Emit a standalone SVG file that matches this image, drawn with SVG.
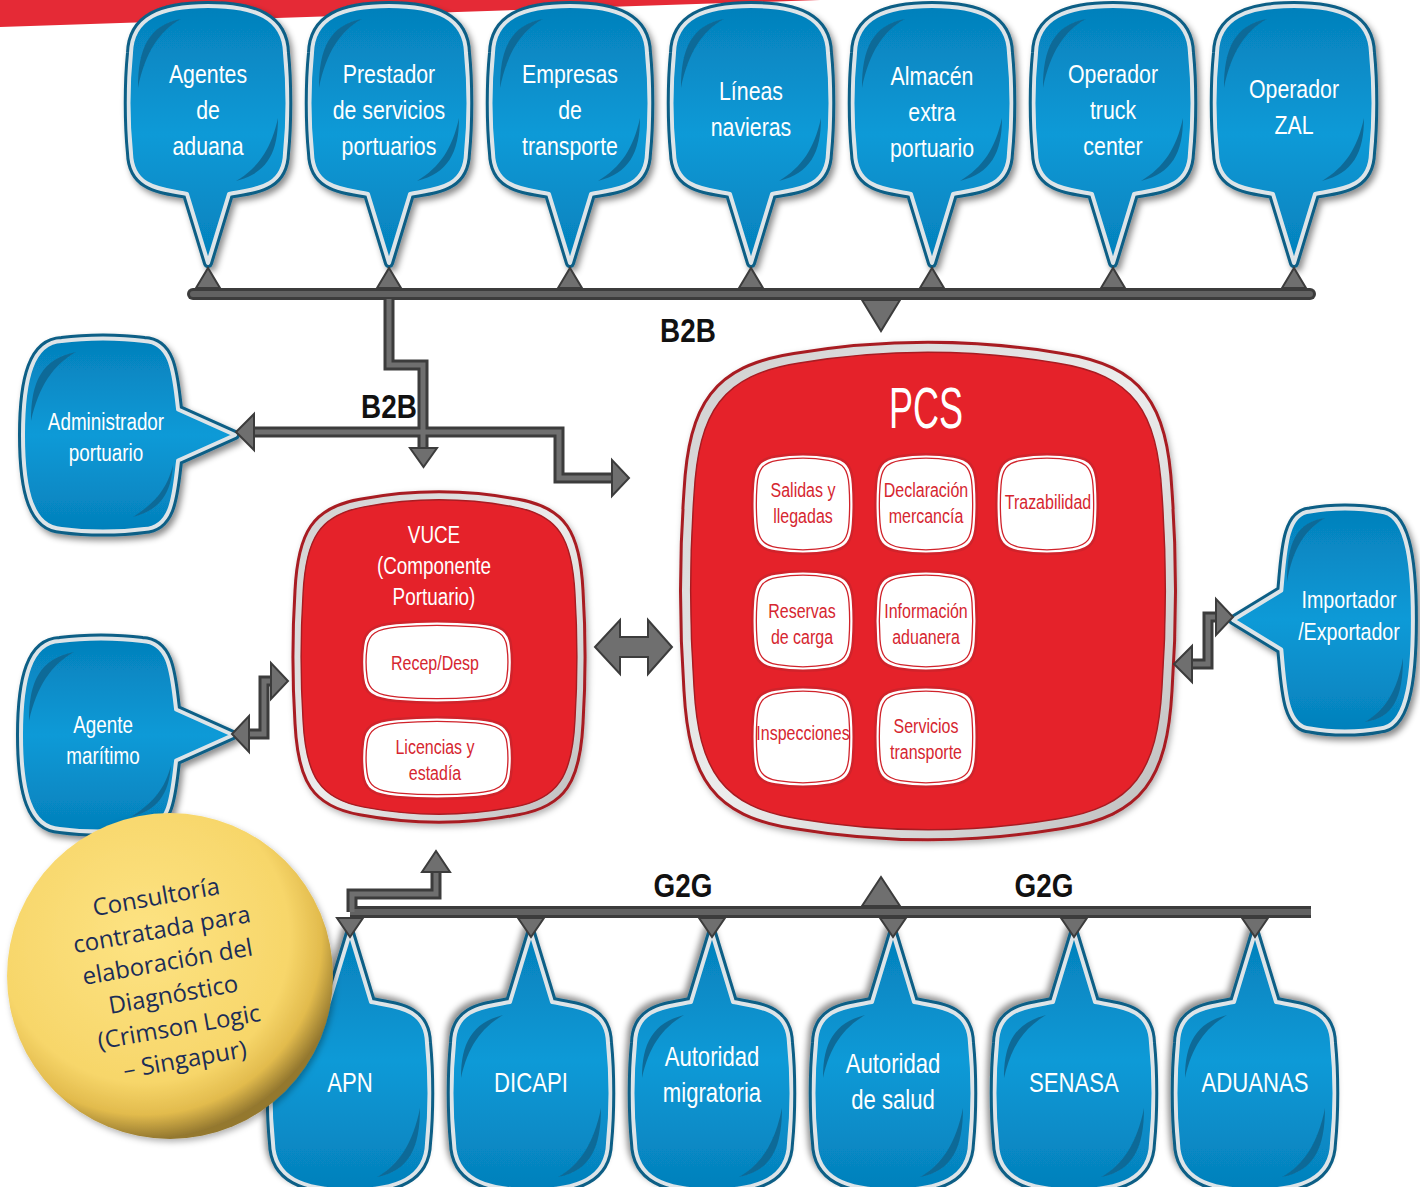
<svg xmlns="http://www.w3.org/2000/svg" width="1420" height="1187" viewBox="0 0 1420 1187">
<defs>
<style>
.wt{font-family:'Liberation Sans','Arimo',sans-serif;fill:#fff;text-anchor:middle}
.top{font-size:26px}
.side{font-size:23px}
.bot{font-size:27px}
.lbl{font-family:'Liberation Sans','Arimo',sans-serif;font-weight:bold;font-size:34px;fill:#111;text-anchor:middle}
.rt{font-family:'Liberation Sans','Arimo',sans-serif;fill:#d62630;font-size:19.5px;text-anchor:middle}
.po{fill:none;stroke:#3c3c3c;stroke-width:11}
.pi{fill:none;stroke:#6f6f6f;stroke-width:5}
.bar{fill:none;stroke:#3c3c3c;stroke-width:12;stroke-linecap:round}
.bari{fill:none;stroke:#626262;stroke-width:6;stroke-linecap:round}
.ah{fill:#6f6f6f;stroke:#3c3c3c;stroke-width:2}
.bo{fill:#0b5f86;stroke:#0b5f86;stroke-width:10;stroke-linejoin:round}
.bi{fill:url(#gb);stroke:#dde4e8;stroke-width:4;stroke-linejoin:round}
.bc{fill:#0a6b98}
.box{fill:#fff;stroke:#d0232b;stroke-width:2.5}
.boxi{fill:none;stroke:#d0232b;stroke-width:1.4}
.yt{font-family:'Open Sans','Noto Sans',sans-serif;font-size:24px;fill:#1c2d57;text-anchor:middle}
</style>
<linearGradient id="gb" x1="0" y1="0" x2="0" y2="1">
<stop offset="0" stop-color="#0580bb"/>
<stop offset="0.5" stop-color="#0b9ad7"/>
<stop offset="1" stop-color="#0580bb"/>
</linearGradient>
<linearGradient id="gring" x1="0" y1="0" x2="1" y2="1">
<stop offset="0" stop-color="#cfcfcf"/>
<stop offset="0.5" stop-color="#ececec"/>
<stop offset="1" stop-color="#bdbdbd"/>
</linearGradient>
<radialGradient id="gy" cx="0.42" cy="0.38" r="0.62">
<stop offset="0" stop-color="#fde383"/>
<stop offset="0.72" stop-color="#f7d66a"/>
<stop offset="0.88" stop-color="#e2bb4d"/>
<stop offset="1" stop-color="#94782f"/>
</radialGradient>
<filter id="sh" x="-20%" y="-20%" width="140%" height="140%">
<feDropShadow dx="3" dy="4" stdDeviation="3" flood-color="#000" flood-opacity="0.45"/>
</filter>
<filter id="sh2" x="-10%" y="-10%" width="120%" height="120%">
<feDropShadow dx="2" dy="3" stdDeviation="3" flood-color="#000" flood-opacity="0.3"/>
</filter>
<path id="pt" d="M21,91 C47.5,86 76,85 77,50 C80,20 80,-20 77,-50 C76,-85 47.5,-97 0,-97 C-47.5,-97 -76,-85 -77,-50 C-80,-20 -80,20 -77,50 C-76,85 -47.5,86 -21,91 L0,160 Z"/>
<g id="bt">
<use href="#pt" class="bo"/>
<use href="#pt" class="bi"/>
<path class="bc" d="M-70,-15 C-70,-55 -59,-78 -27,-84 C-49,-72 -63,-50 -70,-15 Z M70,15 C70,50 59,70 28,78 C51,64 63,46 70,15 Z"/>
</g>
<path id="pl" d="M75.1,25.5 C71,58 70.1,92.8 41.3,94 C16.5,97.4 -16.5,97.4 -41.3,94 C-70.1,92.8 -80,58 -80,0 C-80,-58 -70.1,-92.8 -41.3,-94 C-16.5,-97.4 16.5,-97.4 41.3,-94 C70.1,-92.8 71,-58 75.1,-25.5 L132,0 Z"/>
<g id="bl">
<use href="#pl" class="bo"/>
<use href="#pl" class="bi"/>
<path class="bc" d="M-72,-14 C-72,-54 -61,-76 -27,-83 C-50,-70 -64,-49 -72,-14 Z M70,30 C68,60 56,75 30,82 C52,68 64,54 70,30 Z"/>
</g>
<path id="pr" d="M-63.7,29.5 C-60.2,67 -59.5,107.2 -35,108.5 C-14,112.6 14,112.6 35,108.5 C59.5,107.2 67.9,67 67.9,0 C67.9,-67 59.5,-107.2 35,-108.5 C14,-112.6 -14,-112.6 -35,-108.5 C-59.5,-107.2 -60.2,-67 -63.7,-29.5 L-112,0 Z"/>
<g id="br">
<use href="#pr" class="bo"/>
<use href="#pr" class="bi"/>
<path class="bc" d="M-58,-38 C-58,-78 -48,-98 -20,-102 C-40,-90 -52,-72 -58,-38 Z M58,38 C58,78 48,98 20,102 C40,90 52,72 58,38 Z"/>
</g>
<path id="pvuce" d="M-79.2,-157.7 Q0,-172.6 79.2,-157.7 C126.7,-149.4 141.1,-124.5 144,-66.4 C146.9,-19.9 146.9,19.9 144,66.4 C141.1,124.5 126.7,149.4 79.2,157.7 Q0,172.6 -79.2,157.7 C-126.7,149.4 -141.1,124.5 -144,66.4 C-146.9,19.9 -146.9,-19.9 -144,-66.4 C-141.1,-124.5 -126.7,-149.4 -79.2,-157.7 Z"/>
<path id="ppcs" d="M-134.2,-237.5 Q0,-260 134.2,-237.5 C214.7,-225 239.1,-187.5 244,-100 C248.9,-30 248.9,30 244,100 C239.1,187.5 214.7,225 134.2,237.5 Q0,260 -134.2,237.5 C-214.7,225 -239.1,187.5 -244,100 C-248.9,30 -248.9,-30 -244,-100 C-239.1,-187.5 -214.7,-225 -134.2,-237.5 Z"/>
<path id="psq" d="M-27.5,-47.5 Q0,-52 27.5,-47.5 C44,-45 49,-37.5 50,-20 C51,-6 51,6 50,20 C49,37.5 44,45 27.5,47.5 Q0,52 -27.5,47.5 C-44,45 -49,37.5 -50,20 C-51,6 -51,-6 -50,-20 C-49,-37.5 -44,-45 -27.5,-47.5 Z"/>
<g id="sq">
<use href="#psq" class="box"/>
<use href="#psq" class="boxi" transform="scale(0.92)"/>
</g>
<path id="ppill" d="M-40.7,-39 Q0,-42.6 40.7,-39 C65.1,-36.9 72.5,-30.8 74,-16.4 C75.5,-4.9 75.5,4.9 74,16.4 C72.5,30.8 65.1,36.9 40.7,39 Q0,42.6 -40.7,39 C-65.1,36.9 -72.5,30.8 -74,16.4 C-75.5,4.9 -75.5,-4.9 -74,-16.4 C-72.5,-30.8 -65.1,-36.9 -40.7,-39 Z"/>
<g id="pill">
<use href="#ppill" class="box"/>
<use href="#ppill" class="boxi" transform="scale(0.945,0.9)"/>
</g>
</defs>

<rect width="1420" height="1187" fill="#fff"/>
<polygon points="0,0 820,0 0,27" fill="#e52a36"/>

<!-- top bubbles -->
<g id="n-agentes-aduana"><use href="#bt" transform="translate(208,103)" filter="url(#sh)"/>
<text class="wt top" transform="matrix(0.82 0 0 1 37.44 0)" x="208" y="83">Agentes<tspan x="208" dy="36">de</tspan><tspan x="208" dy="36">aduana</tspan></text></g>
<g id="n-prestador"><use href="#bt" transform="translate(389,103)" filter="url(#sh)"/>
<text class="wt top" transform="matrix(0.82 0 0 1 70.02 0)" x="389" y="83">Prestador<tspan x="389" dy="36">de servicios</tspan><tspan x="389" dy="36">portuarios</tspan></text></g>
<g id="n-empresas"><use href="#bt" transform="translate(570,103)" filter="url(#sh)"/>
<text class="wt top" transform="matrix(0.82 0 0 1 102.6 0)" x="570" y="83">Empresas<tspan x="570" dy="36">de</tspan><tspan x="570" dy="36">transporte</tspan></text></g>
<g id="n-lineas"><use href="#bt" transform="translate(751,103)" filter="url(#sh)"/>
<text class="wt top" transform="matrix(0.82 0 0 1 135.18 0)" x="751" y="100">Líneas<tspan x="751" dy="36">navieras</tspan></text></g>
<g id="n-almacen"><use href="#bt" transform="translate(932,103)" filter="url(#sh)"/>
<text class="wt top" transform="matrix(0.82 0 0 1 167.76 0)" x="932" y="85">Almacén<tspan x="932" dy="36">extra</tspan><tspan x="932" dy="36">portuario</tspan></text></g>
<g id="n-truck"><use href="#bt" transform="translate(1113,103)" filter="url(#sh)"/>
<text class="wt top" transform="matrix(0.82 0 0 1 200.34 0)" x="1113" y="83">Operador<tspan x="1113" dy="36">truck</tspan><tspan x="1113" dy="36">center</tspan></text></g>
<g id="n-zal"><use href="#bt" transform="translate(1294,103)" filter="url(#sh)"/>
<text class="wt top" transform="matrix(0.82 0 0 1 232.92 0)" x="1294" y="98">Operador<tspan x="1294" dy="36">ZAL</tspan></text></g>

<!-- side bubbles -->
<g id="n-administrador"><use href="#bl" transform="translate(103,435)" filter="url(#sh)"/>
<text class="wt side" transform="matrix(0.82 0 0 1 19.08 0)" x="106" y="430">Administrador<tspan x="106" dy="31">portuario</tspan></text></g>
<g id="n-agente-maritimo"><use href="#bl" transform="translate(101,735)" filter="url(#sh)"/>
<text class="wt side" transform="matrix(0.82 0 0 1 18.54 0)" x="103" y="733">Agente<tspan x="103" dy="31">marítimo</tspan></text></g>
<g id="n-importador"><use href="#br" transform="translate(1345,620)" filter="url(#sh)"/>
<text class="wt side" transform="matrix(0.82 0 0 1 242.82 0)" x="1349" y="608" style="font-size:24px">Importador<tspan x="1349" dy="32">/Exportador</tspan></text></g>

<!-- bottom bubbles -->
<g id="n-apn"><use href="#bt" transform="translate(350,1093) rotate(180)" filter="url(#sh)"/>
<text class="wt bot" transform="matrix(0.82 0 0 1 63 0)" x="350" y="1092">APN</text></g>
<g id="n-dicapi"><use href="#bt" transform="translate(531,1093) rotate(180)" filter="url(#sh)"/>
<text class="wt bot" transform="matrix(0.82 0 0 1 95.58 0)" x="531" y="1092">DICAPI</text></g>
<g id="n-migratoria"><use href="#bt" transform="translate(712,1093) rotate(180)" filter="url(#sh)"/>
<text class="wt bot" transform="matrix(0.82 0 0 1 128.16 0)" x="712" y="1066">Autoridad<tspan x="712" dy="36">migratoria</tspan></text></g>
<g id="n-salud"><use href="#bt" transform="translate(893,1093) rotate(180)" filter="url(#sh)"/>
<text class="wt bot" transform="matrix(0.82 0 0 1 160.74 0)" x="893" y="1073">Autoridad<tspan x="893" dy="36">de salud</tspan></text></g>
<g id="n-senasa"><use href="#bt" transform="translate(1074,1093) rotate(180)" filter="url(#sh)"/>
<text class="wt bot" transform="matrix(0.82 0 0 1 193.32 0)" x="1074" y="1092">SENASA</text></g>
<g id="n-aduanas"><use href="#bt" transform="translate(1255,1093) rotate(180)" filter="url(#sh)"/>
<text class="wt bot" transform="matrix(0.82 0 0 1 225.9 0)" x="1255" y="1092">ADUANAS</text></g>

<!-- VUCE -->
<g id="n-vuce">
<use href="#pvuce" transform="translate(439,657)" fill="url(#gring)" stroke="#a81c22" stroke-width="3" filter="url(#sh2)"/>
<use href="#pvuce" transform="translate(439,657) scale(0.944,0.952)" fill="#e5222a" stroke="#a81c22" stroke-width="1.5"/>
<text class="wt" style="font-size:23px" transform="matrix(0.82 0 0 1 78.12 0)" x="434" y="543">VUCE<tspan x="434" dy="31">(Componente</tspan><tspan x="434" dy="31">Portuario)</tspan></text>
<use href="#pill" transform="translate(437,662)"/>
<text class="rt" transform="matrix(0.82 0 0 1 78.3 0)" x="435" y="670">Recep/Desp</text>
<use href="#pill" transform="translate(437,758)"/>
<text class="rt" transform="matrix(0.82 0 0 1 78.3 0)" x="435" y="754">Licencias y<tspan x="435" dy="26">estadía</tspan></text>
</g>

<!-- PCS -->
<g id="n-pcs">
<use href="#ppcs" transform="translate(928,591)" fill="url(#gring)" stroke="#a81c22" stroke-width="3" filter="url(#sh2)"/>
<use href="#ppcs" transform="translate(928,591) scale(0.959,0.96)" fill="#e5222a" stroke="#a81c22" stroke-width="1.5"/>
<text class="wt" style="font-size:57px" x="926" y="428" textLength="74" lengthAdjust="spacingAndGlyphs">PCS</text>
<use href="#sq" transform="translate(803,504)"/>
<text class="rt" transform="matrix(0.82 0 0 1 144.54 0)" x="803" y="497">Salidas y<tspan x="803" dy="26">llegadas</tspan></text>
<use href="#sq" transform="translate(926,504)"/>
<text class="rt" transform="matrix(0.82 0 0 1 166.68 0)" x="926" y="497">Declaración<tspan x="926" dy="26">mercancía</tspan></text>
<use href="#sq" transform="translate(1047,504)"/>
<text class="rt" transform="matrix(0.82 0 0 1 188.64 0)" x="1048" y="509">Trazabilidad</text>
<use href="#sq" transform="translate(803,621)"/>
<text class="rt" transform="matrix(0.82 0 0 1 144.36 0)" x="802" y="618">Reservas<tspan x="802" dy="26">de carga</tspan></text>
<use href="#sq" transform="translate(926,621)"/>
<text class="rt" transform="matrix(0.82 0 0 1 166.68 0)" x="926" y="618">Información<tspan x="926" dy="26">aduanera</tspan></text>
<use href="#sq" transform="translate(803,737)"/>
<text class="rt" transform="matrix(0.82 0 0 1 144.54 0)" x="803" y="740">Inspecciones</text>
<use href="#sq" transform="translate(926,737)"/>
<text class="rt" transform="matrix(0.82 0 0 1 166.68 0)" x="926" y="733">Servicios<tspan x="926" dy="26">transporte</tspan></text>
</g>

<!-- connectors -->
<g id="connectors">
<path class="bar" d="M193,294 H1310"/>
<path class="bar" d="M350,912 H1311" style="stroke-linecap:butt"/>
<path class="po" d="M389,299 V365 H423 V448 M254,432 H559 V478 H612 M249,734 H264 V681 H272 M1192,664 H1208 V617 H1216 M352,912 V894 H436 V872"/>
<path class="bari" d="M193,294 H1310"/>
<path class="bari" d="M350,912 H1311" style="stroke-linecap:butt"/>
<path class="pi" d="M389,299 V365 H423 V448 M254,432 H559 V478 H612 M249,734 H264 V681 H272 M1192,664 H1208 V617 H1216 M352,912 V894 H436 V872"/>
<g class="ah">
<polygon points="196,288 208,268 220,288"/>
<polygon points="377,288 389,268 401,288"/>
<polygon points="558,288 570,268 582,288"/>
<polygon points="739,288 751,268 763,288"/>
<polygon points="920,288 932,268 944,288"/>
<polygon points="1101,288 1113,268 1125,288"/>
<polygon points="1282,288 1294,268 1306,288"/>
<polygon points="862,300 881,331 900,300"/>
<polygon points="410,448 437,448 423.5,467"/>
<polygon points="254,414 254,450 236,432"/>
<polygon points="612,460 612,496 629,478"/>
<polygon points="249,716 249,752 232,734"/>
<polygon points="271,663 271,699 288,681"/>
<polygon points="595,647 620,620 620,637 648,637 648,620 672,647 648,674 648,657 620,657 620,674"/>
<polygon points="1216,599 1216,635 1233,617"/>
<polygon points="1192,646 1192,682 1174,664"/>
<polygon points="337,918 363,918 350,937"/>
<polygon points="518,918 544,918 531,937"/>
<polygon points="699,918 725,918 712,937"/>
<polygon points="880,918 906,918 893,937"/>
<polygon points="1061,918 1087,918 1074,937"/>
<polygon points="1242,918 1268,918 1255,937"/>
<polygon points="862,906 900,906 881,877"/>
<polygon points="422,872 450,872 436,851"/>
</g>
<text class="lbl" transform="matrix(0.82 0 0 1 123.84 0)" x="688" y="342">B2B</text>
<text class="lbl" transform="matrix(0.82 0 0 1 70.02 0)" x="389" y="418">B2B</text>
<text class="lbl" transform="matrix(0.82 0 0 1 122.94 0)" x="683" y="897">G2G</text>
<text class="lbl" transform="matrix(0.82 0 0 1 187.92 0)" x="1044" y="897">G2G</text>
</g>

<!-- consultoria -->
<g id="n-consultoria">
<circle cx="170" cy="976" r="163" fill="url(#gy)" filter="url(#sh2)"/>
<g transform="rotate(-10 170 976)">
<text class="yt" x="170" y="904">Consultoría<tspan x="170" dy="33">contratada para</tspan><tspan x="170" dy="33">elaboración del</tspan><tspan x="170" dy="33">Diagnóstico</tspan><tspan x="170" dy="33">(Crimson Logic</tspan><tspan x="170" dy="33">– Singapur)</tspan></text>
</g>
</g>
</svg>
